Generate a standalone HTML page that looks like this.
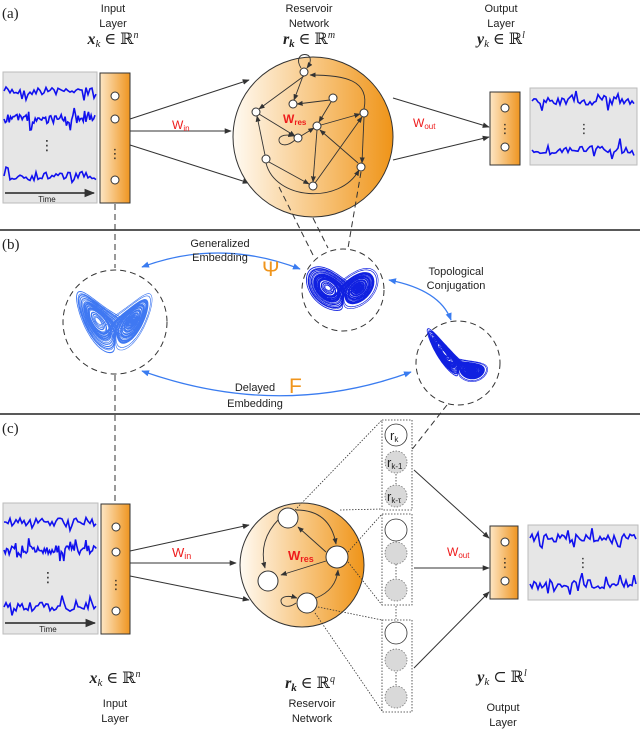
<!DOCTYPE html>
<html><head><meta charset="utf-8"><style>
html,body{margin:0;padding:0;background:#fff}
svg{display:block}
text{font-family:"Liberation Sans","DejaVu Sans",sans-serif;fill:#222}
.m{font-family:"Liberation Serif","DejaVu Serif",serif;font-size:16px}
.r{fill:#ee1c1c}
</style></head><body>
<svg id="s" width="640" height="730" viewBox="0 0 640 730" xmlns="http://www.w3.org/2000/svg">
<defs>
<linearGradient id="gr" x1="0" x2="1" y1="0" y2="0"><stop offset="0" stop-color="#fffaf2"/><stop offset="0.55" stop-color="#f7c37a"/><stop offset="1" stop-color="#ef9418"/></linearGradient>
<linearGradient id="gi" x1="0" x2="1"><stop offset="0" stop-color="#fde6c4"/><stop offset="1" stop-color="#ef9520"/></linearGradient>
<marker id="a" viewBox="0 0 10 10" refX="9" refY="5" markerWidth="7" markerHeight="7" orient="auto-start-reverse"><path d="M0,1 L10,5 L0,9 z" fill="#333"/></marker>
<marker id="b" viewBox="0 0 10 10" refX="9" refY="5" markerWidth="6" markerHeight="6" orient="auto-start-reverse"><path d="M0,1 L10,5 L0,9 z" fill="#3a7cf0"/></marker>
</defs>

<line x1="0" y1="230" x2="640" y2="230" stroke="#222" stroke-width="1.5"/>
<line x1="0" y1="414" x2="640" y2="414" stroke="#222" stroke-width="1.5"/>
<text x="2" y="18" class="m" style="font-size:15px">(a)</text>
<text x="2" y="249" class="m" style="font-size:15px">(b)</text>
<text x="2" y="433" class="m" style="font-size:15px">(c)</text>

<g font-size="11" text-anchor="middle">
<text x="113" y="12">Input</text><text x="113" y="27">Layer</text>
<text x="309" y="12">Reservoir</text><text x="309" y="27">Network</text>
<text x="501" y="12">Output</text><text x="501" y="27">Layer</text>
</g>
<text x="113" y="44" class="m" text-anchor="middle"><tspan font-weight="bold" font-style="italic">x</tspan><tspan font-size="11" font-style="italic" dy="3">k</tspan><tspan dy="-3"> ∈ ℝ</tspan><tspan font-size="10" dy="-6" font-style="italic">n</tspan></text>
<text x="309" y="44" class="m" text-anchor="middle"><tspan font-weight="bold" font-style="italic">r</tspan><tspan font-size="11" font-weight="bold" font-style="italic" dy="3">k</tspan><tspan dy="-3"> ∈ ℝ</tspan><tspan font-size="10" dy="-6" font-style="italic">m</tspan></text>
<text x="501" y="44" class="m" text-anchor="middle"><tspan font-weight="bold" font-style="italic">y</tspan><tspan font-size="11" font-style="italic" dy="3">k</tspan><tspan dy="-3"> ∈ ℝ</tspan><tspan font-size="10" dy="-6" font-style="italic">l</tspan></text>

<rect x="3" y="72" width="94" height="131" fill="#e6e6e6" stroke="#bbb"/>
<text x="47" y="150" font-size="14" text-anchor="middle">⋮</text>
<line x1="5" y1="193" x2="94" y2="193" stroke="#222" stroke-width="1.5" marker-end="url(#a)"/>
<text x="47" y="202" font-size="8" text-anchor="middle">Time</text>
<rect x="100" y="73" width="30" height="130" fill="url(#gi)" stroke="#333"/>
<g fill="#fff" stroke="#333"><circle cx="115" cy="96" r="4"/><circle cx="115" cy="119" r="4"/><circle cx="115" cy="180" r="4"/></g>
<text x="115" y="158" font-size="13" text-anchor="middle">⋮</text>
<g stroke="#333" stroke-width="1" marker-end="url(#a)">
<line x1="130" y1="119" x2="249" y2="80"/><line x1="130" y1="131" x2="231" y2="131"/><line x1="130" y1="145" x2="249" y2="183"/>
<line x1="393" y1="98" x2="489" y2="127"/><line x1="393" y1="160" x2="489" y2="137"/>
</g>
<text x="172" y="129" class="r" font-size="12">W<tspan font-size="8" dy="2">in</tspan></text>
<text x="413" y="127" class="r" font-size="12">W<tspan font-size="8" dy="2">out</tspan></text>
<circle cx="313" cy="137" r="80" fill="url(#gr)" stroke="#333"/>
<g fill="none" stroke="#333" stroke-width="0.9" marker-end="url(#a)">
<path d="M301,68 C290,50 320,50 307,68"/>
<path d="M364,109 C370,80 345,75 310,75"/>
<line x1="304" y1="76" x2="259" y2="109"/>
<line x1="303" y1="76" x2="294" y2="100"/>
<line x1="330" y1="100" x2="297" y2="104"/>
<line x1="331" y1="102" x2="319" y2="122"/>
<line x1="259" y1="114" x2="295" y2="136"/>
<path d="M295,140 C278,155 270,130 294,136"/>
<line x1="301" y1="136" x2="314" y2="128"/>
<line x1="321" y1="125" x2="360" y2="114"/>
<line x1="265" y1="155" x2="257" y2="116"/>
<line x1="269" y1="162" x2="309" y2="184"/>
<line x1="317" y1="130" x2="313" y2="182"/>
<line x1="364" y1="117" x2="362" y2="163"/>
<line x1="315" y1="183" x2="362" y2="117"/>
<path d="M266,163 C275,200 340,205 359,170"/>
<line x1="358" y1="163" x2="320" y2="130"/>
</g>
<g fill="#fff" stroke="#333"><circle cx="304" cy="72" r="4"/><circle cx="293" cy="104" r="4"/><circle cx="333" cy="98" r="4"/><circle cx="256" cy="112" r="4"/><circle cx="317" cy="126" r="4"/><circle cx="298" cy="138" r="4"/><circle cx="364" cy="113" r="4"/><circle cx="266" cy="159" r="4"/><circle cx="361" cy="167" r="4"/><circle cx="313" cy="186" r="4"/></g>
<text x="283" y="123" class="r" font-size="12" font-weight="bold">W<tspan font-size="8" dy="2">res</tspan></text>
<rect x="490" y="92" width="30" height="73" fill="url(#gi)" stroke="#333"/>
<g fill="#fff" stroke="#333"><circle cx="505" cy="108" r="4"/><circle cx="505" cy="147" r="4"/></g>
<text x="505" y="133" font-size="13" text-anchor="middle">⋮</text>
<rect x="530" y="88" width="107" height="77" fill="#e6e6e6" stroke="#bbb"/>
<text x="584" y="133" font-size="13" text-anchor="middle">⋮</text>

<g stroke="#333" stroke-dasharray="6,4" fill="none">
<line x1="115" y1="204" x2="115" y2="268"/>
<line x1="115" y1="375" x2="115" y2="504"/>
<line x1="279" y1="187" x2="314" y2="257"/>
<line x1="313" y1="218" x2="328" y2="248"/>
<line x1="361" y1="172" x2="348" y2="248"/>
<line x1="447" y1="405" x2="410" y2="452"/>
<circle cx="115" cy="322" r="52"/>
<circle cx="343" cy="290" r="41"/>
<circle cx="458" cy="363" r="42"/>
</g>
<g id="att"></g>
<g fill="none" stroke="#3a7cf0" stroke-width="1.3" marker-start="url(#b)" marker-end="url(#b)">
<path d="M142,267 Q220,238 300,269"/>
<path d="M389,280 Q440,290 451,320"/>
<path d="M142,371 Q280,420 411,372"/>
</g>
<g font-size="11" text-anchor="middle">
<text x="220" y="247">Generalized</text><text x="220" y="261">Embedding</text>
<text x="456" y="275">Topological</text><text x="456" y="289">Conjugation</text>
<text x="255" y="391">Delayed</text><text x="255" y="407">Embedding</text>
</g>
<text x="262" y="276" font-size="21" style="fill:#f0951c" font-family="Liberation Serif,serif">Ψ</text>
<text x="289" y="393" font-size="21" style="fill:#f0951c" font-family="Liberation Serif,serif">F</text>

<rect x="3" y="503" width="95" height="131" fill="#e6e6e6" stroke="#bbb"/>
<text x="48" y="582" font-size="14" text-anchor="middle">⋮</text>
<line x1="5" y1="623" x2="95" y2="623" stroke="#222" stroke-width="1.5" marker-end="url(#a)"/>
<text x="48" y="632" font-size="8" text-anchor="middle">Time</text>
<rect x="101" y="504" width="29" height="130" fill="url(#gi)" stroke="#333"/>
<g fill="#fff" stroke="#333"><circle cx="116" cy="527" r="4"/><circle cx="116" cy="552" r="4"/><circle cx="116" cy="611" r="4"/></g>
<text x="116" y="589" font-size="13" text-anchor="middle">⋮</text>
<g stroke="#333" stroke-width="1" marker-end="url(#a)">
<line x1="130" y1="551" x2="249" y2="525"/><line x1="130" y1="563" x2="236" y2="563"/><line x1="130" y1="576" x2="249" y2="600"/>
<line x1="414" y1="470" x2="489" y2="538"/><line x1="414" y1="568" x2="489" y2="568"/><line x1="414" y1="668" x2="489" y2="592"/>
</g>
<text x="172" y="557" class="r" font-size="13">W<tspan font-size="9" dy="2">in</tspan></text>
<text x="447" y="556" class="r" font-size="12">W<tspan font-size="8" dy="2">out</tspan></text>
<circle cx="302" cy="565" r="62" fill="url(#gr)" stroke="#333"/>
<g fill="none" stroke="#333" stroke-width="0.9" marker-end="url(#a)">
<path d="M296,510 Q330,510 336,544"/>
<line x1="326" y1="552" x2="298" y2="527"/>
<line x1="326" y1="561" x2="281" y2="575"/>
<path d="M279,519 Q258,540 265,568"/>
<path d="M316,598 Q336,590 338,570"/>
<path d="M296,603 C280,615 272,590 297,598"/>
</g>
<g fill="#fff" stroke="#333"><circle cx="288" cy="518" r="10"/><circle cx="337" cy="557" r="11"/><circle cx="268" cy="581" r="10"/><circle cx="307" cy="603" r="10"/></g>
<text x="288" y="560" class="r" font-size="13" font-weight="bold">W<tspan font-size="9" dy="2">res</tspan></text>
<g stroke="#333" stroke-dasharray="1.5,1.5" fill="none" stroke-width="0.8">
<line x1="295" y1="510" x2="382" y2="420"/><line x1="340" y1="510" x2="382" y2="509"/>
<line x1="348" y1="552" x2="382" y2="514"/><line x1="348" y1="562" x2="382" y2="605"/>
<line x1="318" y1="607" x2="382" y2="620"/><line x1="315" y1="613" x2="382" y2="711"/>
<rect x="382" y="420" width="30" height="90"/><rect x="382" y="514" width="30" height="91"/><rect x="382" y="620" width="30" height="92"/>
<line x1="396" y1="471" x2="396" y2="484"/><line x1="396" y1="564" x2="396" y2="578"/><line x1="396" y1="606" x2="396" y2="619"/><line x1="396" y1="672" x2="396" y2="685"/>
</g>
<g stroke="#333" stroke-width="0.8">
<circle cx="396" cy="435" r="11" fill="#fff"/>
<circle cx="396" cy="530" r="11" fill="#fff"/>
<circle cx="396" cy="633" r="11" fill="#fff"/>
</g>
<g stroke="#777" stroke-width="0.8" stroke-dasharray="1.5,1.5" fill="#d9d9d9">
<circle cx="396" cy="462" r="11"/><circle cx="396" cy="496" r="11"/>
<circle cx="396" cy="553" r="11"/><circle cx="396" cy="590" r="11"/>
<circle cx="396" cy="660" r="11"/><circle cx="396" cy="697" r="11"/>
</g>
<text x="390" y="440" font-size="13">r<tspan font-size="8" dy="2">k</tspan></text>
<text x="387" y="467" font-size="13">r<tspan font-size="8" dy="2">k-1</tspan></text>
<text x="387" y="501" font-size="13">r<tspan font-size="8" dy="2">k-τ</tspan></text>
<rect x="490" y="526" width="28" height="73" fill="url(#gi)" stroke="#333"/>
<g fill="#fff" stroke="#333"><circle cx="505" cy="542" r="4"/><circle cx="505" cy="581" r="4"/></g>
<text x="505" y="567" font-size="13" text-anchor="middle">⋮</text>
<rect x="528" y="525" width="110" height="75" fill="#e6e6e6" stroke="#bbb"/>
<text x="583" y="567" font-size="13" text-anchor="middle">⋮</text>

<text x="115" y="683" class="m" text-anchor="middle"><tspan font-weight="bold" font-style="italic">x</tspan><tspan font-size="11" font-style="italic" dy="3">k</tspan><tspan dy="-3"> ∈ ℝ</tspan><tspan font-size="10" dy="-6" font-style="italic">n</tspan></text>
<text x="310" y="688" class="m" text-anchor="middle"><tspan font-weight="bold" font-style="italic">r</tspan><tspan font-size="11" font-weight="bold" font-style="italic" dy="3">k</tspan><tspan dy="-3"> ∈ ℝ</tspan><tspan font-size="10" dy="-6" font-style="italic">q</tspan></text>
<text x="502" y="682" class="m" text-anchor="middle"><tspan font-weight="bold" font-style="italic">y</tspan><tspan font-size="11" font-style="italic" dy="3">k</tspan><tspan dy="-3"> ⊂ ℝ</tspan><tspan font-size="10" dy="-6" font-style="italic">l</tspan></text>
<g font-size="11" text-anchor="middle">
<text x="115" y="707">Input</text><text x="115" y="722">Layer</text>
<text x="312" y="707">Reservoir</text><text x="312" y="722">Network</text>
<text x="503" y="711">Output</text><text x="503" y="726">Layer</text>
</g>
<g id="wv"></g>
</svg>
<script>
var NS="http://www.w3.org/2000/svg",seed=7;
function rnd(){seed=(seed*16807)%2147483647;return seed/2147483647;}
function wave(x0,x1,y,step,amp){var d="M"+x0+","+y;for(var x=x0+step;x<=x1;x+=step){var v=(rnd()-0.5)*amp;if(rnd()<0.15)v+=amp*0.8*(rnd()<0.5?-1:1);d+=" L"+x.toFixed(1)+","+(y+v).toFixed(1);}var p=document.createElementNS(NS,"path");p.setAttribute("d",d);p.setAttribute("fill","none");p.setAttribute("stroke","#1010ee");p.setAttribute("stroke-width","1.6");document.getElementById("wv").appendChild(p);}
wave(4,96,91,2,8);wave(4,96,119,1.3,9);wave(4,96,176,2,9);
wave(532,635,101,2,8);wave(532,635,150,2,9);
wave(4,97,522,2,8);wave(4,97,550,1.3,9);wave(4,97,607,2,9);
wave(530,636,538,2,8);wave(530,636,584,2,9);
function lorenz(n){var x=1,y=1,z=20,pts=[],dt=0.006;for(var i=0;i<n;i++){var dx=10*(y-x),dy=x*(28-z)-y,dz=x*y-8/3*z;x+=dx*dt;y+=dy*dt;z+=dz*dt;if(i>200)pts.push([x,y,z]);}return pts;}
var L=lorenz(14000);
function att(f,col,w){var d="";for(var i=0;i<L.length;i++){var q=f(L[i]);d+=(i?"L":"M")+q[0].toFixed(1)+","+q[1].toFixed(1);}var p=document.createElementNS(NS,"path");p.setAttribute("d",d);p.setAttribute("fill","none");p.setAttribute("stroke",col);p.setAttribute("stroke-width",w);document.getElementById("att").appendChild(p);}
att(function(p){return [115+p[0]*2.0,352-(p[2]-5)*1.4];},"#3f78f2","0.6");
att(function(p){var a=p[0]*0.8+p[1]*0.4,b=p[2]-25;return [343+a*1.5,290-b*1.0];},"#1020e0","0.6");
att(function(p){var a=p[0],b=p[2]-25;return [458+a*1.6,363-b*0.7+a*1.0];},"#1020e0","0.6");
</script>
</body></html>
